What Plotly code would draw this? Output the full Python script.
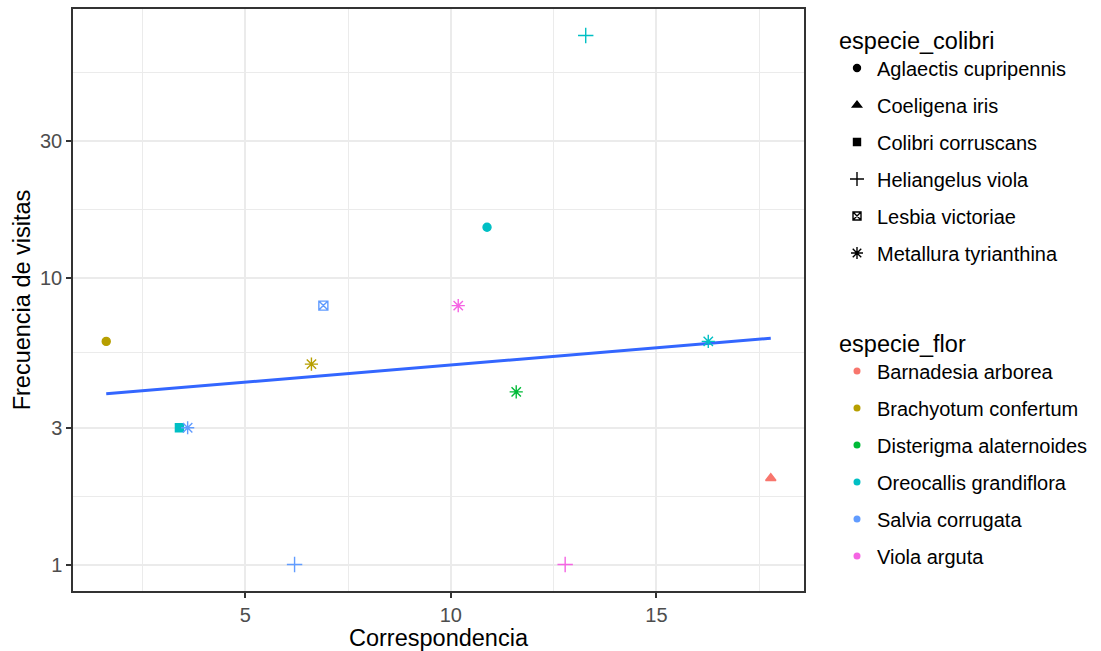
import numpy as np
import plotly.graph_objects as go

# ---- data ----
correspondencia = [13.28, 10.88, 6.90, 10.18, 1.62, 16.26, 6.61, 11.59, 3.40, 3.60, 17.78, 6.20, 12.78]
frecuencia = [70, 15, 8, 8, 6, 6, 5, 4, 3, 3, 2, 1, 1]
especie_colibri = ["Heliangelus viola", "Aglaectis cupripennis", "Lesbia victoriae", "Metallura tyrianthina",
                   "Aglaectis cupripennis", "Metallura tyrianthina", "Metallura tyrianthina", "Metallura tyrianthina",
                   "Colibri corruscans", "Metallura tyrianthina", "Coeligena iris", "Heliangelus viola",
                   "Heliangelus viola"]
especie_flor = ["Oreocallis grandiflora", "Oreocallis grandiflora", "Salvia corrugata", "Viola arguta",
                "Brachyotum confertum", "Oreocallis grandiflora", "Brachyotum confertum", "Disterigma alaternoides",
                "Oreocallis grandiflora", "Salvia corrugata", "Barnadesia arborea", "Salvia corrugata",
                "Viola arguta"]
niveles_colibri = ["Aglaectis cupripennis", "Coeligena iris", "Colibri corruscans", "Heliangelus viola",
                   "Lesbia victoriae", "Metallura tyrianthina"]
niveles_flor = ["Barnadesia arborea", "Brachyotum confertum", "Disterigma alaternoides",
                "Oreocallis grandiflora", "Salvia corrugata", "Viola arguta"]
x_ticks = [5, 10, 15]
y_ticks = [1, 3, 10, 30]

# ---- styles ----
FONT = "Liberation Sans, Arial, sans-serif"
hue = ["#F8766D", "#B79F00", "#00BA38", "#00BFC4", "#619CFF", "#F564E3"]
color_of = dict(zip(niveles_flor, hue))
symbols = ["circle", "triangle-up", "square", "cross-thin-open", "square-x-open", "asterisk-open"]
sizes = [8, 9, 8, 11, 9, 11]
symbol_of = dict(zip(niveles_colibri, symbols))
size_of = dict(zip(niveles_colibri, sizes))

fig = go.Figure()

# regression line (lm on log10 scale)
xs = np.array(correspondencia, dtype=float)
ly = np.log10(np.array(frecuencia, dtype=float))
b1, b0 = np.polyfit(xs, ly, 1)
xl = np.linspace(xs.min(), xs.max(), 80)
fig.add_trace(go.Scatter(x=xl, y=10 ** (b0 + b1 * xl), mode="lines",
                         line=dict(color="#3366FF", width=3), showlegend=False, hoverinfo="skip"))

# points
cols = [color_of[f] for f in especie_flor]
fig.add_trace(go.Scatter(
    x=correspondencia, y=frecuencia, mode="markers", showlegend=False,
    marker=dict(symbol=[symbol_of[c] for c in especie_colibri],
                size=[size_of[c] for c in especie_colibri], opacity=1,
                color=cols, line=dict(color=cols, width=1.4)),
))

# legend: shape
for i, c in enumerate(niveles_colibri):
    fig.add_trace(go.Scatter(
        x=[None], y=[None], mode="markers", name=c, legend="legend", legendgroup="c%d" % i,
        marker=dict(symbol=symbol_of[c], size=size_of[c] - 1, color="black", opacity=1,
                    line=dict(color="black", width=1.4)),
    ))
# legend: colour
for i, f in enumerate(niveles_flor):
    fig.add_trace(go.Scatter(
        x=[None], y=[None], mode="markers", name=f, legend="legend2", legendgroup="f%d" % i,
        marker=dict(symbol="circle", size=7, color=color_of[f], opacity=1),
    ))

# axis ranges (5% expansion like ggplot)
xr = xs.max() - xs.min()
yr = ly.max() - ly.min()
x_range = [xs.min() - 0.05 * xr, xs.max() + 0.05 * xr]
y_range = [ly.min() - 0.05 * yr, ly.max() + 0.05 * yr]

lmaj = np.log10(y_ticks)
step = lmaj[1] - lmaj[0]
ext = np.concatenate([lmaj, [lmaj[-1] + step]])
y_minor = list(10 ** ((ext[:-1] + ext[1:]) / 2))

legend_common = dict(
    xref="container", yref="container", xanchor="left", yanchor="top",
    font=dict(family=FONT, size=20, color="black"), bgcolor="rgba(0,0,0,0)",
    traceorder="grouped", tracegroupgap=8, itemsizing="trace",
)

fig.update_layout(
    width=1101, height=651,
    margin=dict(l=73, r=297, t=9, b=60, autoexpand=False),
    paper_bgcolor="white", plot_bgcolor="white",
    font=dict(family=FONT, color="black"),
    xaxis=dict(
        range=x_range, tickvals=x_ticks, ticktext=[str(v) for v in x_ticks],
        showgrid=True, gridcolor="#EBEBEB", gridwidth=2, zeroline=False, automargin=False,
        minor=dict(tickmode="array", tickvals=[2.5, 7.5, 12.5, 17.5], showgrid=True,
                   gridcolor="#EBEBEB", gridwidth=1, ticklen=0),
        showline=True, mirror=True, linecolor="#333333", linewidth=1.5,
        ticks="outside", ticklen=5, tickwidth=2, tickcolor="#333333",
        tickfont=dict(family=FONT, size=20, color="#4D4D4D"),
        title=dict(text="Correspondencia", font=dict(family=FONT, size=23.5, color="black"), standoff=4),
    ),
    yaxis=dict(
        type="log", range=y_range, tickvals=y_ticks, ticktext=[str(v) for v in y_ticks],
        showgrid=True, gridcolor="#EBEBEB", gridwidth=2, zeroline=False, automargin=False,
        minor=dict(tickmode="array", tickvals=y_minor, showgrid=True,
                   gridcolor="#EBEBEB", gridwidth=1, ticklen=0),
        showline=True, mirror=True, linecolor="#333333", linewidth=1.5,
        ticks="outside", ticklen=5, tickwidth=2, tickcolor="#333333",
        tickfont=dict(family=FONT, size=20, color="#4D4D4D"),
        title=dict(text="Frecuencia de visitas", font=dict(family=FONT, size=23.5, color="black"), standoff=3),
    ),
    legend=dict(x=837 / 1101, y=1 - 18 / 651,
                title=dict(text="especie_colibri", font=dict(family=FONT, size=23.5, color="black")),
                **legend_common),
    legend2=dict(x=837 / 1101, y=1 - 321 / 651,
                 title=dict(text="especie_flor", font=dict(family=FONT, size=23.5, color="black")),
                 **legend_common),
)

fig.write_html("out.html", config={"displayModeBar": False},
               post_script="document.body.style.margin='0';")
